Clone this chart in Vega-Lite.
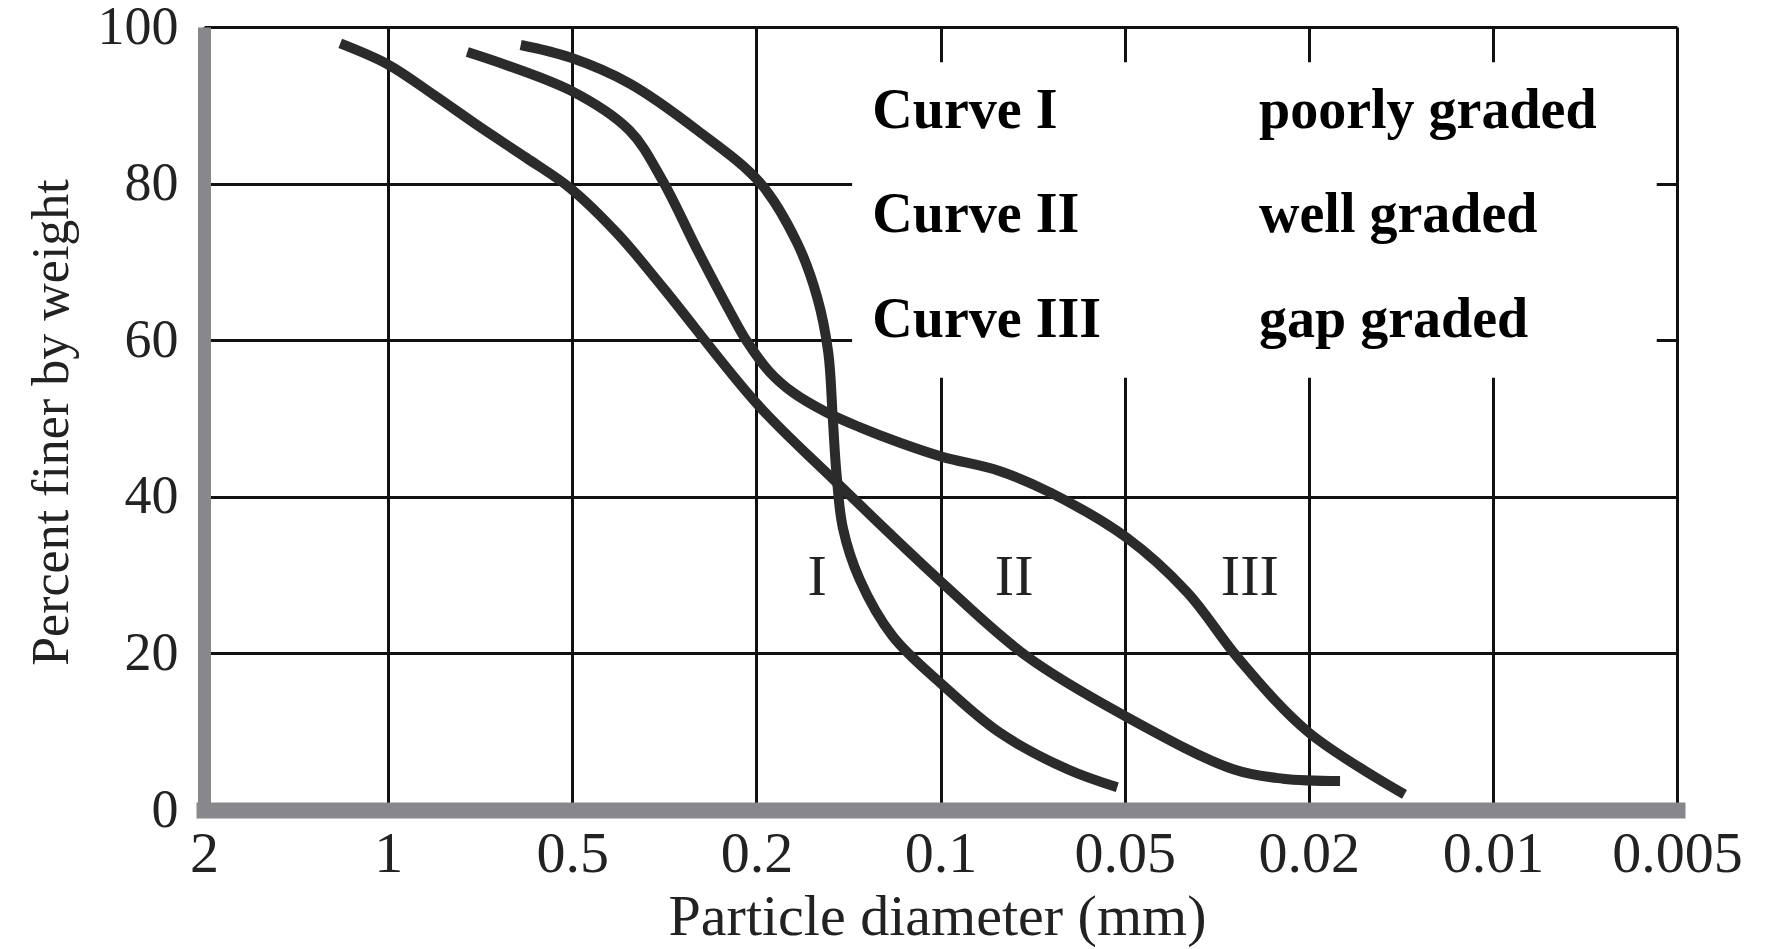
{
  "$schema": "https://vega.github.io/schema/vega-lite/v6.json",
  "width": 1473,
  "height": 783,
  "autosize": {"type": "none"},
  "padding": {"left": 204, "top": 27, "right": 88, "bottom": 139},
  "background": "white",
  "config": {"view": {"stroke": null}, "font": "Liberation Serif"},
  "datasets": {
    "box": [{"x": 3.52, "x2": 7.89, "y": 55.2, "y2": 95.5}],
    "curves": [
      {"curve": "I", "x": 1.72, "y": 97.7},
      {"curve": "I", "x": 1.99, "y": 96.1},
      {"curve": "I", "x": 2.31, "y": 92.8},
      {"curve": "I", "x": 2.68, "y": 86.8},
      {"curve": "I", "x": 3.02, "y": 80.1},
      {"curve": "I", "x": 3.22, "y": 72.5},
      {"curve": "I", "x": 3.33, "y": 65.5},
      {"curve": "I", "x": 3.39, "y": 58.5},
      {"curve": "I", "x": 3.415, "y": 50.0},
      {"curve": "I", "x": 3.435, "y": 43.0},
      {"curve": "I", "x": 3.47, "y": 36.0},
      {"curve": "I", "x": 3.56, "y": 29.5},
      {"curve": "I", "x": 3.74, "y": 22.2},
      {"curve": "I", "x": 4.01, "y": 16.0},
      {"curve": "I", "x": 4.32, "y": 9.9},
      {"curve": "I", "x": 4.69, "y": 5.2},
      {"curve": "I", "x": 4.96, "y": 2.9},
      {"curve": "II", "x": 0.74, "y": 97.9},
      {"curve": "II", "x": 1.0, "y": 95.2},
      {"curve": "II", "x": 1.25, "y": 91.3},
      {"curve": "II", "x": 1.5, "y": 87.2},
      {"curve": "II", "x": 1.75, "y": 83.3},
      {"curve": "II", "x": 1.99, "y": 79.4},
      {"curve": "II", "x": 2.25, "y": 73.5},
      {"curve": "II", "x": 2.49, "y": 66.8},
      {"curve": "II", "x": 3.01, "y": 51.7},
      {"curve": "II", "x": 3.42, "y": 42.2},
      {"curve": "II", "x": 4.01, "y": 29.0},
      {"curve": "II", "x": 4.47, "y": 19.6},
      {"curve": "II", "x": 5.01, "y": 11.9},
      {"curve": "II", "x": 5.59, "y": 5.2},
      {"curve": "II", "x": 5.86, "y": 4.0},
      {"curve": "II", "x": 6.17, "y": 3.7},
      {"curve": "III", "x": 1.43, "y": 96.8},
      {"curve": "III", "x": 1.99, "y": 91.9},
      {"curve": "III", "x": 2.31, "y": 86.8},
      {"curve": "III", "x": 2.49, "y": 80.4},
      {"curve": "III", "x": 2.68, "y": 71.5},
      {"curve": "III", "x": 2.86, "y": 63.5},
      {"curve": "III", "x": 2.95, "y": 59.8},
      {"curve": "III", "x": 3.07, "y": 56.0},
      {"curve": "III", "x": 3.2, "y": 53.3},
      {"curve": "III", "x": 3.38, "y": 50.8},
      {"curve": "III", "x": 3.56, "y": 48.9},
      {"curve": "III", "x": 3.78, "y": 46.9},
      {"curve": "III", "x": 4.01, "y": 45.1},
      {"curve": "III", "x": 4.32, "y": 43.3},
      {"curve": "III", "x": 4.6, "y": 40.5},
      {"curve": "III", "x": 5.01, "y": 34.8},
      {"curve": "III", "x": 5.34, "y": 27.8},
      {"curve": "III", "x": 5.62, "y": 19.3},
      {"curve": "III", "x": 6.0, "y": 9.9},
      {"curve": "III", "x": 6.52, "y": 2.0}
    ],
    "legend": [
      {"label": "Curve I", "x": 3.63, "y": 87.1},
      {"label": "Curve II", "x": 3.63, "y": 73.8},
      {"label": "Curve III", "x": 3.63, "y": 60.4},
      {"label": "poorly graded", "x": 5.73, "y": 87.1},
      {"label": "well graded", "x": 5.73, "y": 73.8},
      {"label": "gap graded", "x": 5.73, "y": 60.4}
    ],
    "curveLabels": [
      {"label": "I", "x": 3.33, "y": 27.5},
      {"label": "II", "x": 4.4, "y": 27.5},
      {"label": "III", "x": 5.68, "y": 27.5}
    ]
  },
  "encoding": {
    "x": {
      "field": "x",
      "type": "quantitative",
      "scale": {"domain": [0, 8], "nice": false, "zero": false},
      "axis": {
        "values": [0, 1, 2, 3, 4, 5, 6, 7, 8],
        "labelExpr": "['2','1','0.5','0.2','0.1','0.05','0.02','0.01','0.005'][datum.value]",
        "grid": true,
        "gridColor": "#111111",
        "gridWidth": 3,
        "ticks": false,
        "domainColor": "#88888c",
        "domainWidth": 16,
        "domainCap": "square",
        "labelFont": "Liberation Serif",
        "labelFontSize": 58,
        "labelColor": "#222222",
        "labelBaseline": "alphabetic",
        "labelPadding": 61,
        "labelFlush": false,
        "labelOverlap": false,
        "title": "Particle diameter (mm)",
        "titleFont": "Liberation Serif",
        "titleFontSize": 58,
        "titleFontWeight": "normal",
        "titleColor": "#222222",
        "titleBaseline": "alphabetic",
        "titleAlign": "center",
        "titleX": 733,
        "titleY": 124
      }
    },
    "y": {
      "field": "y",
      "type": "quantitative",
      "scale": {"domain": [0, 100], "nice": false},
      "axis": {
        "values": [0, 20, 40, 60, 80, 100],
        "grid": true,
        "gridColor": "#111111",
        "gridWidth": 3,
        "ticks": false,
        "domainColor": "#88888c",
        "domainWidth": 13,
        "labelFont": "Liberation Serif",
        "labelFontSize": 54,
        "labelColor": "#222222",
        "labelPadding": 26,
        "labelOverlap": false,
        "labelFlush": false,
        "title": "Percent finer by weight",
        "titleFont": "Liberation Serif",
        "titleFontSize": 52,
        "titleFontWeight": "normal",
        "titleColor": "#222222",
        "titleBaseline": "alphabetic",
        "titleAlign": "center",
        "titleAngle": 270,
        "titleX": -137,
        "titleY": 395
      }
    }
  },
  "layer": [
    {
      "data": {"name": "box"},
      "mark": {"type": "rect", "fill": "white", "stroke": null},
      "encoding": {
        "x2": {"field": "x2"},
        "y2": {"field": "y2"}
      }
    },
    {
      "data": {"name": "curves"},
      "mark": {"type": "line", "interpolate": "catmull-rom", "strokeWidth": 10, "color": "#2b2b2b"},
      "encoding": {
        "detail": {"field": "curve", "type": "nominal"}
      }
    },
    {
      "data": {"name": "legend"},
      "mark": {"type": "text", "align": "left", "baseline": "alphabetic", "font": "Liberation Serif", "fontWeight": "bold", "fontSize": 56, "color": "#000000"},
      "encoding": {
        "text": {"field": "label", "type": "nominal"}
      }
    },
    {
      "data": {"name": "curveLabels"},
      "mark": {"type": "text", "align": "center", "baseline": "alphabetic", "font": "Liberation Serif", "fontSize": 58, "color": "#222222"},
      "encoding": {
        "text": {"field": "label", "type": "nominal"}
      }
    }
  ]
}
